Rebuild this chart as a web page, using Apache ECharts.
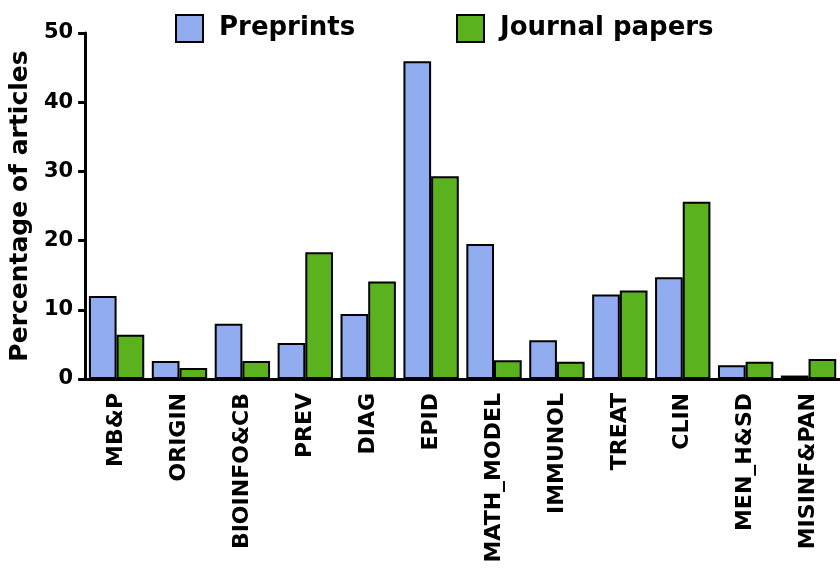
<!DOCTYPE html>
<html>
<head>
<meta charset="utf-8">
<script src="https://cdn.jsdelivr.net/npm/echarts@6/dist/echarts.min.js"></script>
<style>html,body{margin:0;padding:0;background:#fff}#c{width:840px;height:568px}</style>
</head>
<body>
<div id="c"></div>
<script>
var categories = ['MB&P','ORIGIN','BIOINFO&CB','PREV','DIAG','EPID','MATH_MODEL','IMMUNOL','TREAT','CLIN','MEN_H&SD','MISINF&PAN'];
var preprints = [12.0, 2.6, 8.0, 5.2, 9.4, 45.9, 19.5, 5.6, 12.2, 14.7, 2.0, 0.5];
var journalPapers = [6.4, 1.6, 2.6, 18.3, 14.1, 29.3, 2.7, 2.5, 12.8, 25.6, 2.5, 2.9];
var yTicks = [0, 10, 20, 30, 40, 50];

var FONT = 'DejaVu Sans';
var chart = echarts.init(document.getElementById('c'), null, {renderer: 'canvas'});
var axisLineStyle = {color: '#000', width: 3};
var legendText = {fontFamily: FONT, fontWeight: 'bold', fontSize: 26, color: '#000', padding: [0,0,0,11]};
chart.setOption({
  animation: false,
  backgroundColor: '#fff',
  legend: [{
    data: ['Preprints'], left: 175, top: 14, padding: 0, icon: 'rect', itemWidth: 27, itemHeight: 27,
    textStyle: legendText
  }, {
    data: ['Journal papers'], left: 456, top: 14, padding: 0, icon: 'rect', itemWidth: 27, itemHeight: 27,
    textStyle: legendText
  }],
  grid: {left: 84, top: 33, width: 760, height: 346, containLabel: false},
  xAxis: {
    type: 'category', data: categories,
    axisLine: {lineStyle: axisLineStyle},
    axisTick: {alignWithLabel: true, length: 7, lineStyle: {color: '#000', width: 3}},
    axisLabel: {rotate: 90, interval: 0, margin: 14, fontFamily: FONT, fontWeight: 'bold', fontSize: 22, color: '#000'}
  },
  yAxis: {
    type: 'value', min: yTicks[0], max: yTicks[yTicks.length-1], interval: 10,
    name: 'Percentage of articles', nameLocation: 'middle', nameGap: 52,
    nameTextStyle: {fontFamily: FONT, fontWeight: 'bold', fontSize: 25, color: '#000'},
    axisLine: {show: true, lineStyle: axisLineStyle},
    axisTick: {show: true, length: 7, lineStyle: {color: '#000', width: 3}},
    axisLabel: {margin: 12, fontFamily: FONT, fontWeight: 'bold', fontSize: 21, color: '#000'},
    splitLine: {show: false}
  },
  series: [{
    name: 'Preprints', type: 'bar', data: preprints, barGap: '0%', barCategoryGap: '12%',
    itemStyle: {color: '#92acf0', borderColor: '#000', borderWidth: 2}
  }, {
    name: 'Journal papers', type: 'bar', data: journalPapers, barGap: '0%', barCategoryGap: '12%',
    itemStyle: {color: '#5bb21f', borderColor: '#000', borderWidth: 2}
  }]
});
</script>
</body>
</html>
